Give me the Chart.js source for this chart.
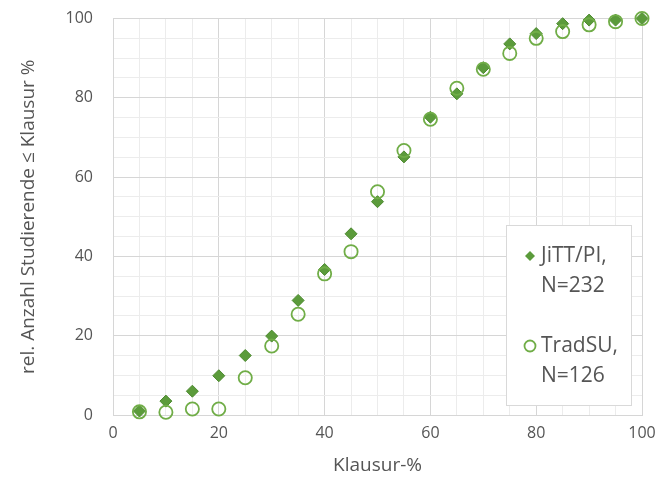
<!DOCTYPE html>
<html>
<head>
<meta charset="utf-8">
<script src="https://cdn.jsdelivr.net/npm/chart.js@4/dist/chart.umd.min.js"></script>
<style>
  html, body { margin: 0; padding: 0; background: #fff; }
  #wrap { width: 670px; height: 479px; }
</style>
</head>
<body>
<div id="wrap"><canvas id="chart"></canvas></div>
<script>
const klausur = [5, 10, 15, 20, 25, 30, 35, 40, 45, 50, 55, 60, 65, 70, 75, 80, 85, 90, 95, 100];
const jitt = [1.0, 3.5, 6.0, 9.9, 15.0, 19.9, 28.9, 36.7, 45.7, 53.8, 65.1, 75.1, 81.0, 87.6, 93.6, 96.2, 98.7, 99.6, 99.6, 100];
const trad = [0.8, 0.7, 1.5, 1.5, 9.4, 17.4, 25.4, 35.6, 41.2, 56.3, 66.7, 74.6, 82.4, 87.2, 91.2, 95.0, 96.7, 98.4, 99.2, 100];
const legendLines = [["JiTT/PI,", "N=232"], ["TradSU,", "N=126"]];

const textColor = "#555555";
const fontName = "'Open Sans', sans-serif";

function gridColor(ctx) {
  return ctx.tick && ctx.tick.value % 20 === 0 ? "#d6d6d6" : "#ececec";
}

// legend box drawn by hand, two lines per entry
const boxLegend = {
  id: "boxLegend",
  afterDraw(chart) {
    const c = chart.ctx;
    const a = chart.chartArea;
    const x0 = a.right - 136, y0 = a.bottom - 190, w = 125, h = 180;
    c.save();
    c.fillStyle = "#fff";
    c.fillRect(x0, y0, w, h);
    c.strokeStyle = "#d9d9d9";
    c.lineWidth = 1;
    c.strokeRect(x0 + 0.5, y0 + 0.5, w, h);
    c.font = "21px " + fontName;
    c.fillStyle = textColor;
    c.textBaseline = "middle";
    c.textAlign = "left";
    const rows = [y0 + 31, y0 + 121];
    legendLines.forEach((lines, i) => {
      const y = rows[i];
      const mx = x0 + 24;
      c.beginPath();
      if (i === 0) {
        c.moveTo(mx, y - 5); c.lineTo(mx + 5, y); c.lineTo(mx, y + 5); c.lineTo(mx - 5, y);
        c.closePath();
        c.fillStyle = "#5b9b3b";
        c.fill();
      } else {
        c.arc(mx, y, 5.5, 0, Math.PI * 2);
        c.strokeStyle = "#70ad47";
        c.lineWidth = 1.8;
        c.stroke();
      }
      c.fillStyle = textColor;
      c.fillText(lines[0], mx + 11, y);
      c.fillText(lines[1], mx + 11, y + 30);
    });
    c.restore();
  }
};

new Chart(document.getElementById("chart"), {
  type: "scatter",
  data: {
    datasets: [
      {
        label: "TradSU, N=126",
        data: klausur.map((k, i) => ({ x: k, y: trad[i] })),
        pointStyle: "circle",
        pointRadius: 6.6,
        backgroundColor: "rgba(0,0,0,0)",
        borderColor: "#70ad47",
        borderWidth: 1.8,
        clip: false,
      },
      {
        label: "JiTT/PI, N=232",
        data: klausur.map((k, i) => ({ x: k, y: jitt[i] })),
        pointStyle: "rectRot",
        pointRadius: 6,
        backgroundColor: "#5b9b3b",
        borderColor: "#4d8a30",
        borderWidth: 1,
        clip: false,
      },
    ],
  },
  plugins: [boxLegend],
  options: {
    responsive: true,
    maintainAspectRatio: false,
    animation: false,
    layout: { padding: { top: 18.5, right: 28, left: 0, bottom: 0 } },
    plugins: {
      legend: { display: false },
      tooltip: { enabled: false },
    },
    scales: {
      x: {
        min: 0,
        max: 100,
        afterFit(scale) { scale.height = 64; },
        ticks: {
          stepSize: 5,
          autoSkip: false,
          maxRotation: 0,
          padding: 9,
          color: textColor,
          font: { family: fontName, size: 16 },
          callback: (v) => (v % 20 === 0 ? v : ""),
        },
        grid: { color: gridColor, drawTicks: false },
        border: { color: "#d6d6d6" },
        title: {
          display: true,
          text: "Klausur-%",
          color: textColor,
          font: { family: fontName, size: 19 },
          padding: { top: 0, bottom: 2 },
        },
      },
      y: {
        min: 0,
        max: 100,
        afterFit(scale) {
          scale.width = 113;
          scale.paddingTop = 0;
          scale.paddingBottom = 0;
        },
        ticks: {
          stepSize: 5,
          autoSkip: false,
          padding: 20,
          color: textColor,
          font: { family: fontName, size: 16 },
          callback: (v) => (v % 20 === 0 ? v : ""),
        },
        grid: { color: gridColor, drawTicks: false },
        border: { color: "#d6d6d6" },
        title: {
          display: true,
          text: "rel. Anzahl Studierende ≤ Klausur %",
          color: textColor,
          font: { family: fontName, size: 19 },
          padding: { top: 17, bottom: 0 },
        },
      },
    },
  },
});
</script>
</body>
</html>
